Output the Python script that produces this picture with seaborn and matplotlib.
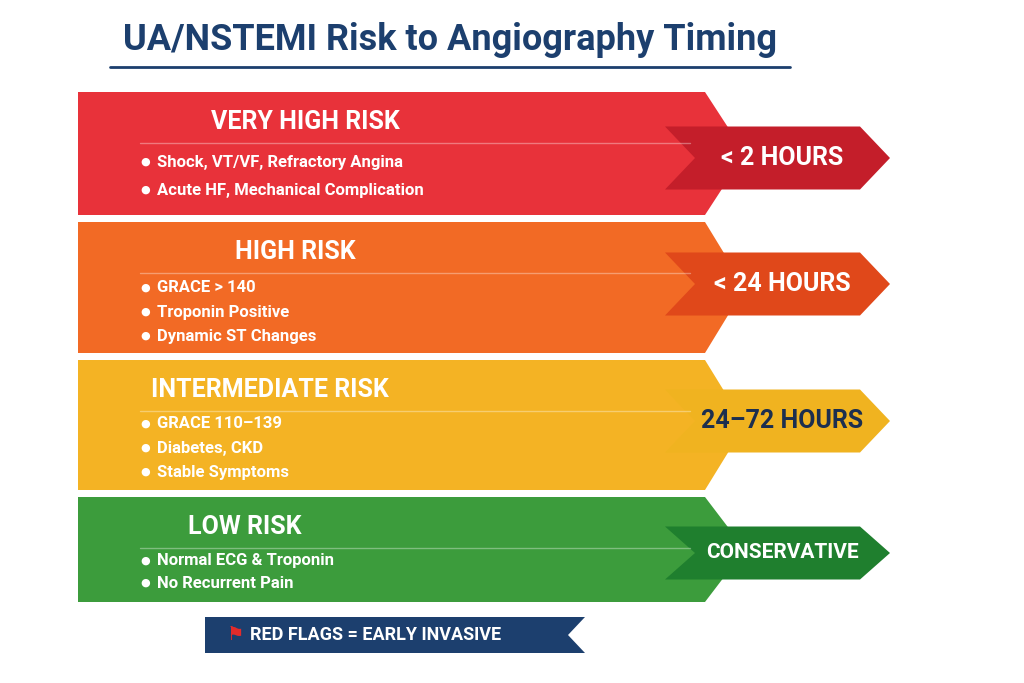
import matplotlib.pyplot as plt
import seaborn as sns
from matplotlib.patches import Polygon

sns.set_theme(style="white")
plt.rcParams["font.family"] = ["Roboto", "DejaVu Sans"]

title = "UA/NSTEMI Risk to Angiography Timing"
levels = ["VERY HIGH RISK", "HIGH RISK", "INTERMEDIATE RISK", "LOW RISK"]
bullets = [
    ["Shock, VT/VF, Refractory Angina", "Acute HF, Mechanical Complication"],
    ["GRACE > 140", "Troponin Positive", "Dynamic ST Changes"],
    ["GRACE 110–139", "Diabetes, CKD", "Stable Symptoms"],
    ["Normal ECG & Troponin", "No Recurrent Pain"],
]
timings = ["< 2 HOURS", "< 24 HOURS", "24–72 HOURS", "CONSERVATIVE"]
band_colors = ["#e8323a", "#f26a25", "#f4b324", "#3c9c3c"]
tag_colors = ["#c41e2a", "#e0481a", "#f0b320", "#1f7f2e"]
tag_text_colors = ["white", "white", "#1c2f4f", "white"]
footer = "RED FLAGS = EARLY INVASIVE"

# layout (pixel coordinates)
band_tops = [92, 222, 360, 497]
band_bottoms = [215, 353, 490, 602]
heading_x = [305, 295, 270, 245]
first_bullet = [162, 288, 424, 561]
bullet_gap = [28, 24, 24, 22]
tag_centers = [158, 284, 421, 553]
tag_heights = [63, 63, 63, 53]
navy = "#1c3f6e"

fig = plt.figure(figsize=(10.24, 6.83), dpi=100)
ax = fig.add_axes([0, 0, 1, 1])
ax.set_xlim(0, 1024)
ax.set_ylim(683, 0)
ax.axis("off")

ax.text(450, 40, title, ha="center", va="center", fontsize=26, fontweight="bold", color=navy)
ax.plot([110, 790], [67, 67], color=navy, lw=2)

for i, level in enumerate(levels):
    t, b = band_tops[i], band_bottoms[i]
    m = (t + b) / 2
    ax.add_patch(Polygon([(78, t), (705, t), (745, m), (705, b), (78, b)],
                         closed=True, color=band_colors[i], lw=0))
    ax.text(heading_x[i], t + 30, level, ha="center", va="center", fontsize=18,
            fontweight="bold", color="white")
    ax.plot([140, 690], [t + 51, t + 51], color="white", alpha=0.35, lw=1)
    for j, item in enumerate(bullets[i]):
        y = first_bullet[i] + j * bullet_gap[i]
        ax.text(140, y, "●", ha="left", va="center", fontsize=8, color="white")
        ax.text(157, y, item, ha="left", va="center", fontsize=12,
                fontweight="bold", color="white")
    tm = tag_centers[i]
    tt, tb = tm - tag_heights[i] / 2, tm + tag_heights[i] / 2
    ax.add_patch(Polygon([(665, tt), (860, tt), (890, tm), (860, tb), (665, tb), (695, tm)],
                         closed=True, color=tag_colors[i], lw=0))
    ax.text(782, tm, timings[i], ha="center", va="center",
            fontsize=18 if i < 3 else 15, fontweight="bold", color=tag_text_colors[i])

ax.add_patch(Polygon([(205, 617), (585, 617), (568, 635), (585, 653), (205, 653)],
                     closed=True, color=navy, lw=0))
ax.text(236, 635, "⚑", ha="center", va="center", fontsize=14, color="#e32b2b",
        family=["DejaVu Sans"])
ax.text(250, 635, footer, ha="left", va="center", fontsize=13, fontweight="bold", color="white")

fig.savefig("out.png", dpi=100, facecolor="white")
